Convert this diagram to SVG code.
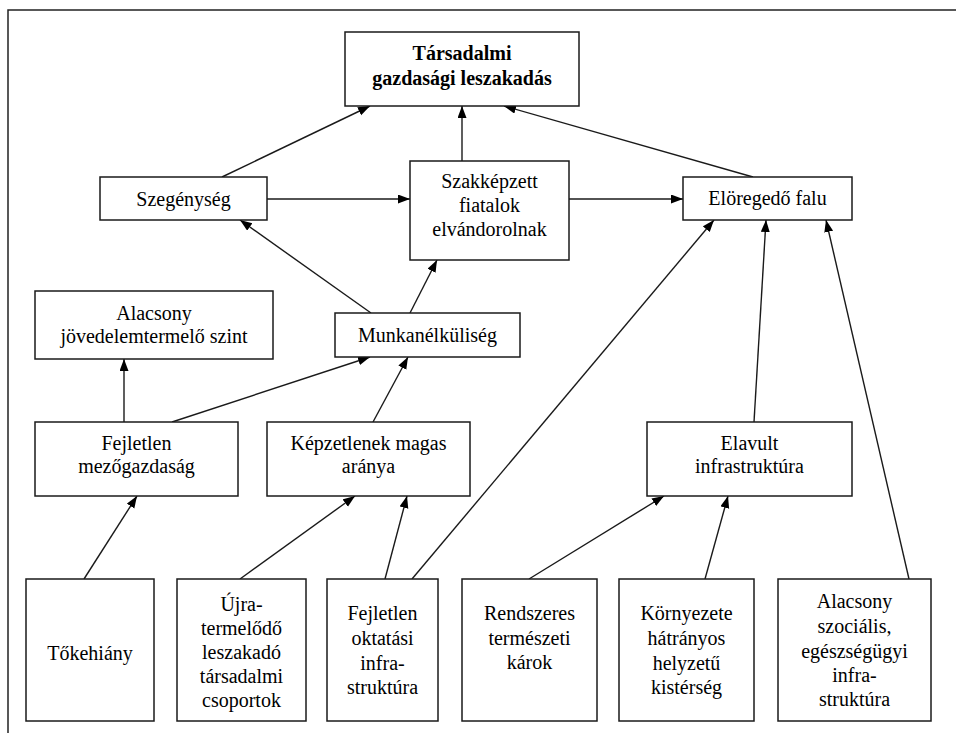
<svg xmlns="http://www.w3.org/2000/svg" width="956" height="733" viewBox="0 0 956 733">
<defs>
<marker id="ah" markerWidth="13" markerHeight="10" refX="12" refY="4.5" orient="auto" markerUnits="userSpaceOnUse">
<path d="M0,0 L12,4.5 L0,9 z" fill="#000"/>
</marker>
</defs>
<rect x="0" y="0" width="956" height="733" fill="#fff"/>
<path d="M8,733 V10 H956" fill="none" stroke="#222" stroke-width="1.5"/>
<g id="connectors" stroke="#1a1a1a" stroke-width="1.4" fill="none" marker-end="url(#ah)">
<line x1="222" y1="177" x2="370" y2="106"/>
<line x1="462" y1="161" x2="462" y2="106"/>
<line x1="753" y1="177" x2="504" y2="106"/>
<line x1="267" y1="199" x2="410" y2="199"/>
<line x1="569" y1="199" x2="683" y2="199"/>
<line x1="371" y1="313" x2="240" y2="220"/>
<line x1="410" y1="313" x2="437" y2="260"/>
<line x1="124" y1="422" x2="124" y2="359"/>
<line x1="172" y1="422" x2="370" y2="357"/>
<line x1="373" y1="422" x2="408" y2="357"/>
<line x1="754" y1="422" x2="766" y2="220"/>
<line x1="412" y1="579" x2="714" y2="220"/>
<line x1="909" y1="579" x2="826" y2="220"/>
<line x1="84" y1="579" x2="137" y2="496"/>
<line x1="240" y1="579" x2="355" y2="496"/>
<line x1="385" y1="579" x2="407" y2="496"/>
<line x1="529" y1="579" x2="664" y2="496"/>
<line x1="705" y1="579" x2="728" y2="496"/>
</g>
<g fill="#fff" stroke="#1a1a1a" stroke-width="1.5">
<rect id="box-tarsadalmi" x="345" y="32" width="234" height="74"/>
<rect id="box-szegenyseg" x="100" y="177" width="167" height="43"/>
<rect id="box-szakkepzett" x="410" y="161" width="159" height="99"/>
<rect id="box-eloregedo" x="683" y="177" width="169" height="43"/>
<rect id="box-alacsony-jov" x="35" y="291" width="238" height="68"/>
<rect id="box-munkanelkuliseg" x="335" y="313" width="185" height="44"/>
<rect id="box-fejletlen-mez" x="35" y="422" width="203" height="74"/>
<rect id="box-kepzetlenek" x="267" y="422" width="203" height="74"/>
<rect id="box-elavult" x="647" y="422" width="205" height="74"/>
<rect id="box-tokehiany" x="26" y="579" width="128" height="142"/>
<rect id="box-ujra" x="177" y="579" width="129" height="142"/>
<rect id="box-fejletlen-okt" x="327" y="579" width="111" height="142"/>
<rect id="box-rendszeres" x="462" y="579" width="135" height="142"/>
<rect id="box-kornyezete" x="619" y="579" width="135" height="142"/>
<rect id="box-alacsony-szoc" x="778" y="579" width="153" height="142"/>
</g>
<g id="labels" text-anchor="middle">
<text font-family="Liberation Serif" font-size="20" font-weight="bold" x="462" y="60">Társadalmi</text>
<text font-family="Liberation Serif" font-size="20" font-weight="bold" x="462" y="85">gazdasági leszakadás</text>
<text font-family="Liberation Serif" font-size="20" x="183.5" y="206">Szegénység</text>
<text font-family="Liberation Serif" font-size="20" x="489.5" y="188">Szakképzett</text>
<text font-family="Liberation Serif" font-size="20" x="489.5" y="212">fiatalok</text>
<text font-family="Liberation Serif" font-size="20" x="489.5" y="236">elvándorolnak</text>
<text font-family="Liberation Serif" font-size="20" x="767.5" y="205">Elöregedő falu</text>
<text font-family="Liberation Serif" font-size="20" x="154" y="320">Alacsony</text>
<text font-family="Liberation Serif" font-size="20" x="154" y="343">jövedelemtermelő szint</text>
<text font-family="Liberation Serif" font-size="20" x="427.5" y="342">Munkanélküliség</text>
<text font-family="Liberation Serif" font-size="20" x="136.5" y="450">Fejletlen</text>
<text font-family="Liberation Serif" font-size="20" x="136.5" y="473">mezőgazdaság</text>
<text font-family="Liberation Serif" font-size="20" x="368.5" y="450">Képzetlenek magas</text>
<text font-family="Liberation Serif" font-size="20" x="368.5" y="473">aránya</text>
<text font-family="Liberation Serif" font-size="20" x="749.5" y="450">Elavult</text>
<text font-family="Liberation Serif" font-size="20" x="749.5" y="473">infrastruktúra</text>
<text font-family="Liberation Serif" font-size="20" x="90" y="660">Tőkehiány</text>
<text font-family="Liberation Serif" font-size="20" x="241.5" y="611">Újra-</text>
<text font-family="Liberation Serif" font-size="20" x="241.5" y="635">termelődő</text>
<text font-family="Liberation Serif" font-size="20" x="241.5" y="659">leszakadó</text>
<text font-family="Liberation Serif" font-size="20" x="241.5" y="683">társadalmi</text>
<text font-family="Liberation Serif" font-size="20" x="241.5" y="707">csoportok</text>
<text font-family="Liberation Serif" font-size="20" x="382.5" y="620">Fejletlen</text>
<text font-family="Liberation Serif" font-size="20" x="382.5" y="645">oktatási</text>
<text font-family="Liberation Serif" font-size="20" x="382.5" y="670">infra-</text>
<text font-family="Liberation Serif" font-size="20" x="382.5" y="694">struktúra</text>
<text font-family="Liberation Serif" font-size="20" x="529.5" y="620">Rendszeres</text>
<text font-family="Liberation Serif" font-size="20" x="529.5" y="645">természeti</text>
<text font-family="Liberation Serif" font-size="20" x="529.5" y="669">károk</text>
<text font-family="Liberation Serif" font-size="20" x="686.5" y="620">Környezete</text>
<text font-family="Liberation Serif" font-size="20" x="686.5" y="645">hátrányos</text>
<text font-family="Liberation Serif" font-size="20" x="686.5" y="670">helyzetű</text>
<text font-family="Liberation Serif" font-size="20" x="686.5" y="694">kistérség</text>
<text font-family="Liberation Serif" font-size="20" x="854.5" y="608">Alacsony</text>
<text font-family="Liberation Serif" font-size="20" x="854.5" y="633">szociális,</text>
<text font-family="Liberation Serif" font-size="20" x="854.5" y="658">egészségügyi</text>
<text font-family="Liberation Serif" font-size="20" x="854.5" y="682">infra-</text>
<text font-family="Liberation Serif" font-size="20" x="854.5" y="706">struktúra</text>
</g>
</svg>
